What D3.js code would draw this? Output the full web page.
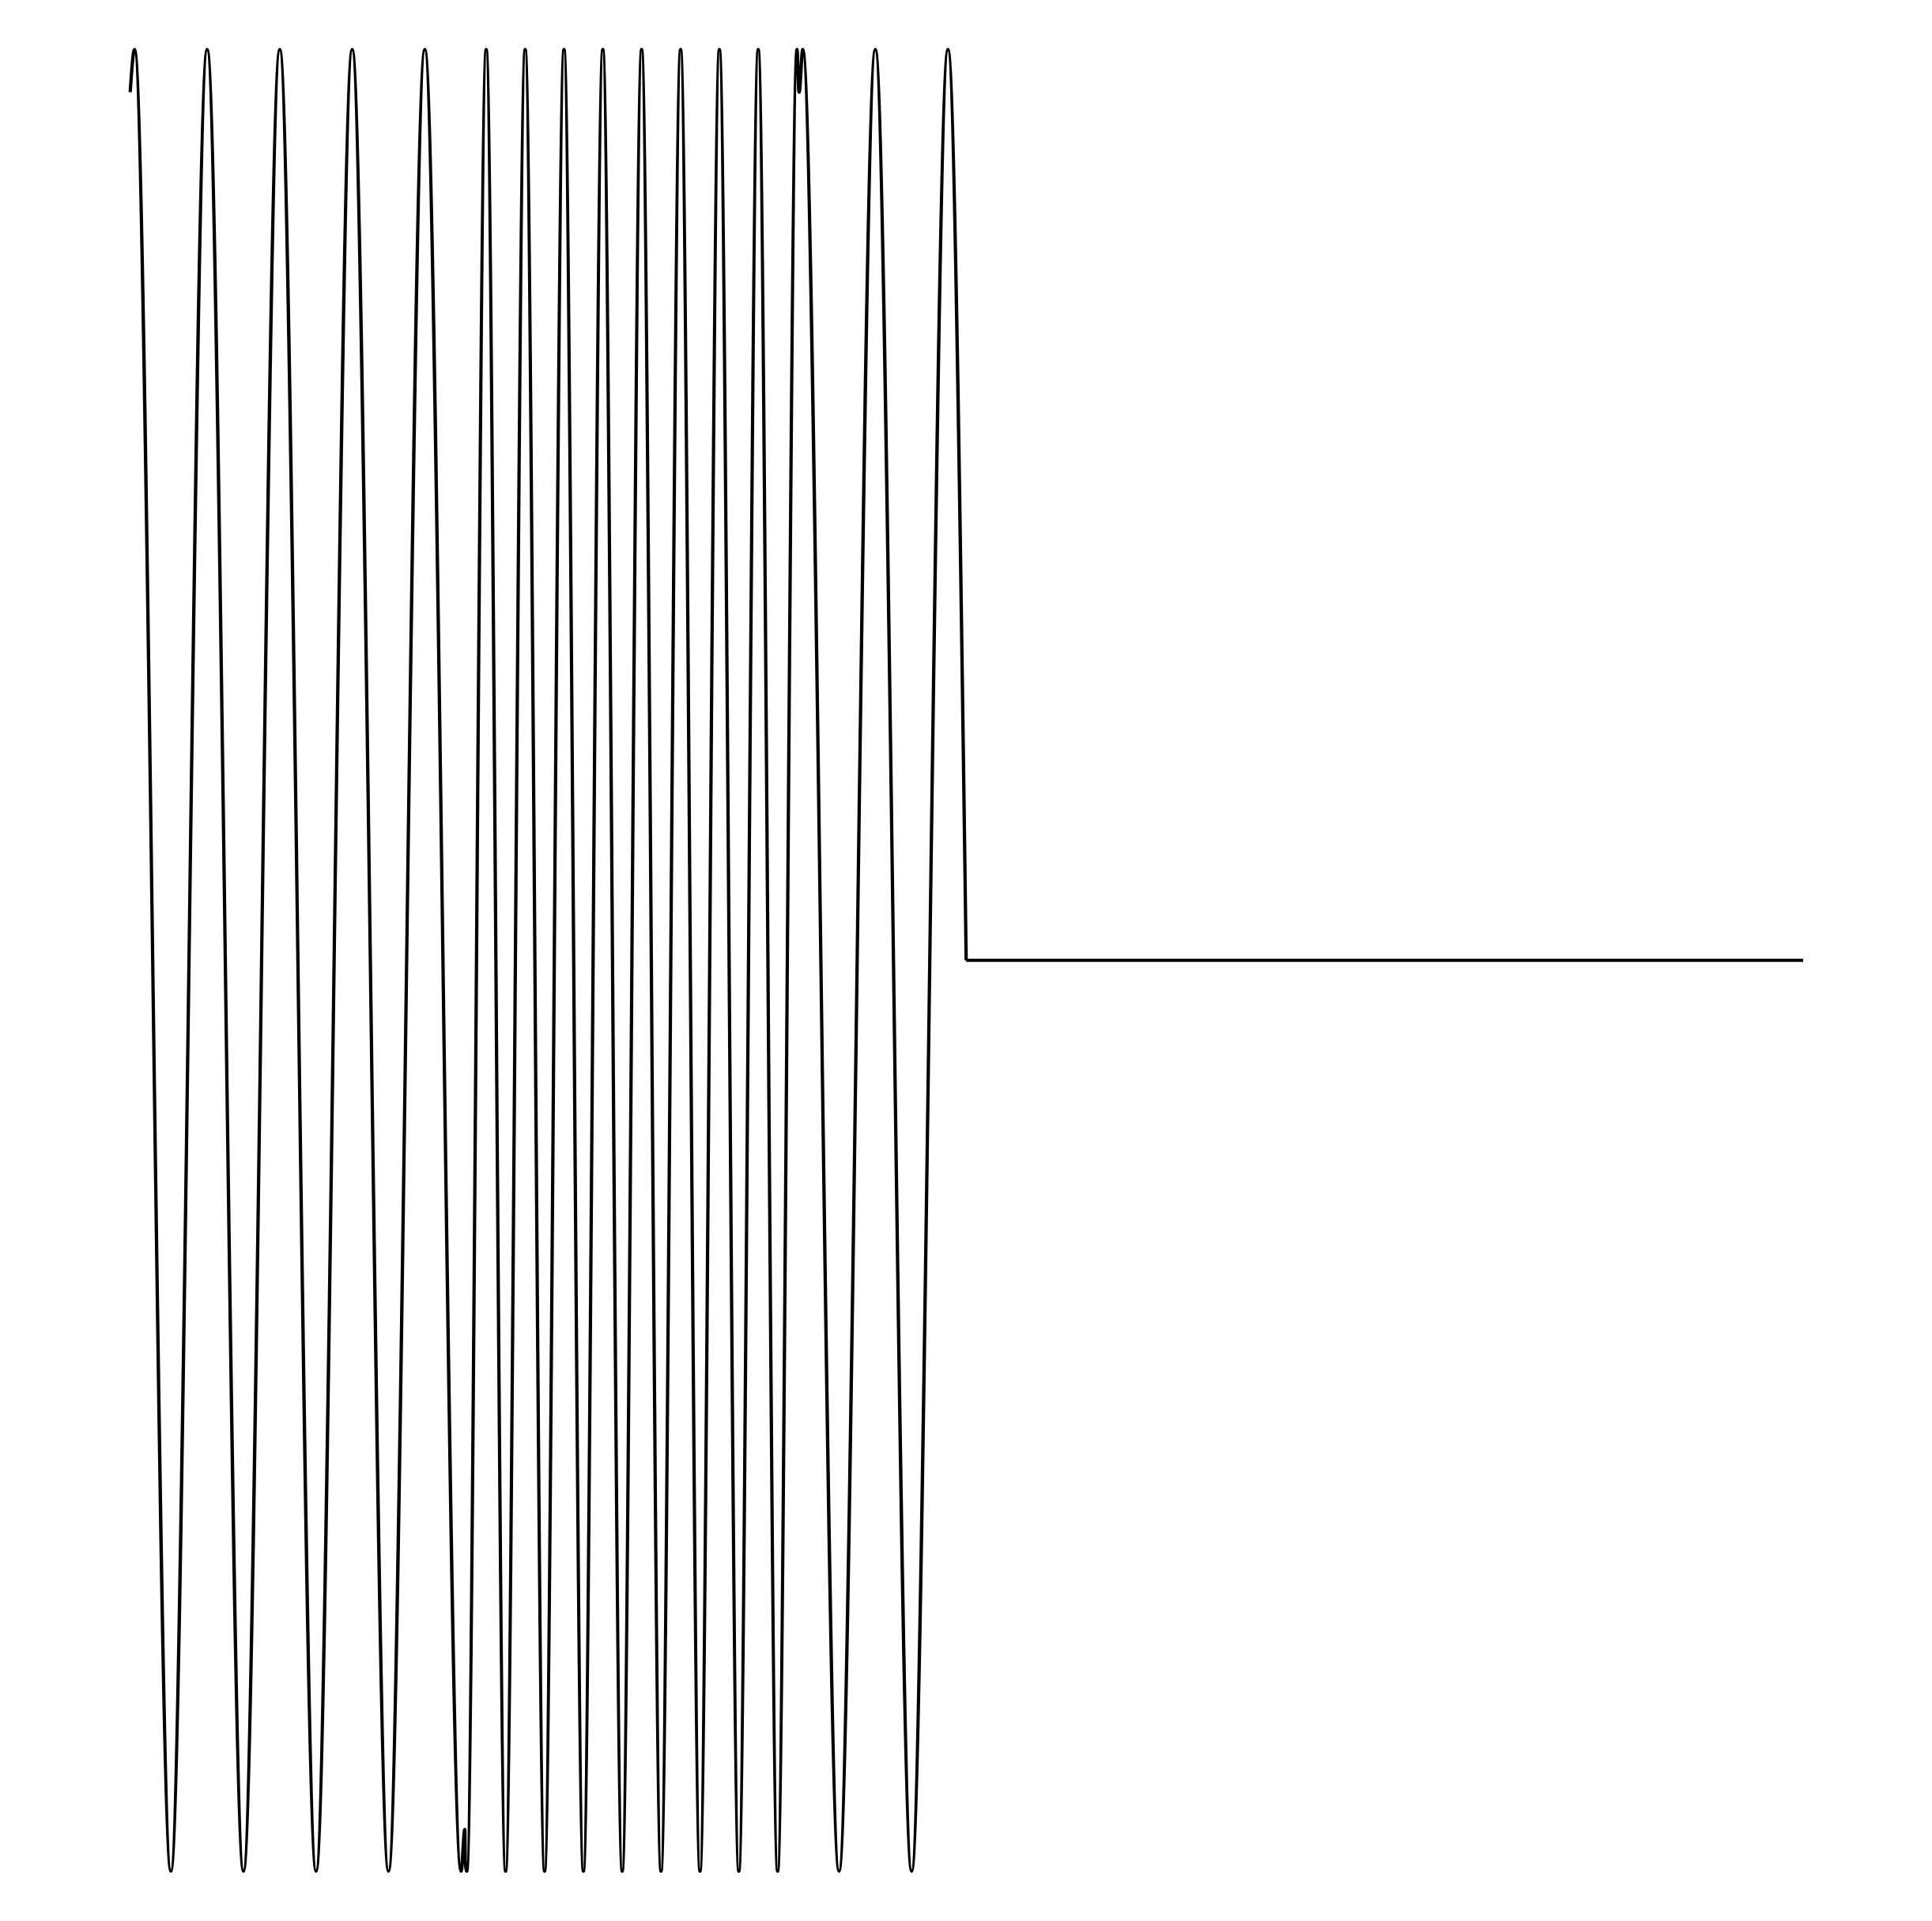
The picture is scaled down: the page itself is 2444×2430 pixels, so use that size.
<!DOCTYPE html>
<html>
<head>
<meta charset="utf-8">
<script src="https://cdn.jsdelivr.net/npm/d3@7"></script>
<style>
  html, body { margin: 0; padding: 0; background: #ffffff; }
</style>
</head>
<body>
<div id="chart"></div>
<script>
// Signal samples (time 0..1, amplitude -1..1)
// segment 1: slow tone
const seg1Time  = [0.0000, 0.0026, 0.0243, 0.0460, 0.0677, 0.0894, 0.1111, 0.1327, 0.1544, 0.1761, 0.1978, 0.2000];
const seg1Value = [0.953,  1,      -1,     1,      -1,     1,      -1,     1,      -1,     1,      -1,     -0.954];

// segment 2: fast tone
const seg2Time  = [0.2003, 0.2012, 0.2128, 0.2244, 0.2361, 0.2477, 0.2593, 0.2709, 0.2825, 0.2941, 0.3057,
                   0.3173, 0.3290, 0.3406, 0.3522, 0.3638, 0.3754, 0.3870, 0.3986, 0.3997];
const seg2Value = [-0.99,  -1,     1,      -1,     1,      -1,     1,      -1,     1,      -1,     1,
                   -1,     1,      -1,     1,      -1,     1,      -1,     1,      0.954];

// segment 3: slow tone again
const seg3Time  = [0.3999, 0.4020, 0.4237, 0.4454, 0.4671, 0.4888, 0.4997];
const seg3Value = [0.953,  1,      -1,     1,      -1,     1,      0];

// silence after the tone
const tailTime  = [0.4997, 1.0];
const tailValue = [0, 0];

const width = 2444;
const height = 2430;
const margin = { top: 62.5, right: 163, bottom: 63, left: 164.7 };

const svg = d3.select("#chart")
  .append("svg")
  .attr("width", width)
  .attr("height", height)
  .style("display", "block")
  .style("background", "#ffffff");

// Scales
const xScale = d3.scaleLinear()
  .domain([0, 1])
  .range([margin.left, width - margin.right]);

const yScale = d3.scaleLinear()
  .domain([-1, 1])
  .range([height - margin.bottom, margin.top]);

const toPoints = (ts, vs) => ts.map((t, i) => ({ t: t, v: vs[i] }));

const wave = [].concat(
  toPoints(seg1Time, seg1Value),
  toPoints(seg2Time, seg2Value),
  toPoints(seg3Time, seg3Value)
);
const tail = toPoints(tailTime, tailValue);

// smooth curve through the turning points
const waveLine = d3.line()
  .x(d => xScale(d.t))
  .y(d => yScale(d.v))
  .curve(d3.curveMonotoneX);

const flatLine = d3.line()
  .x(d => xScale(d.t))
  .y(d => yScale(d.v));

svg.append("path")
  .datum(wave)
  .attr("d", waveLine)
  .attr("fill", "none")
  .attr("stroke", "#000000")
  .attr("stroke-width", 4.2)
  .attr("stroke-linejoin", "round");

svg.append("path")
  .datum(tail)
  .attr("d", flatLine)
  .attr("fill", "none")
  .attr("stroke", "#000000")
  .attr("stroke-width", 4.2);
</script>
</body>
</html>
